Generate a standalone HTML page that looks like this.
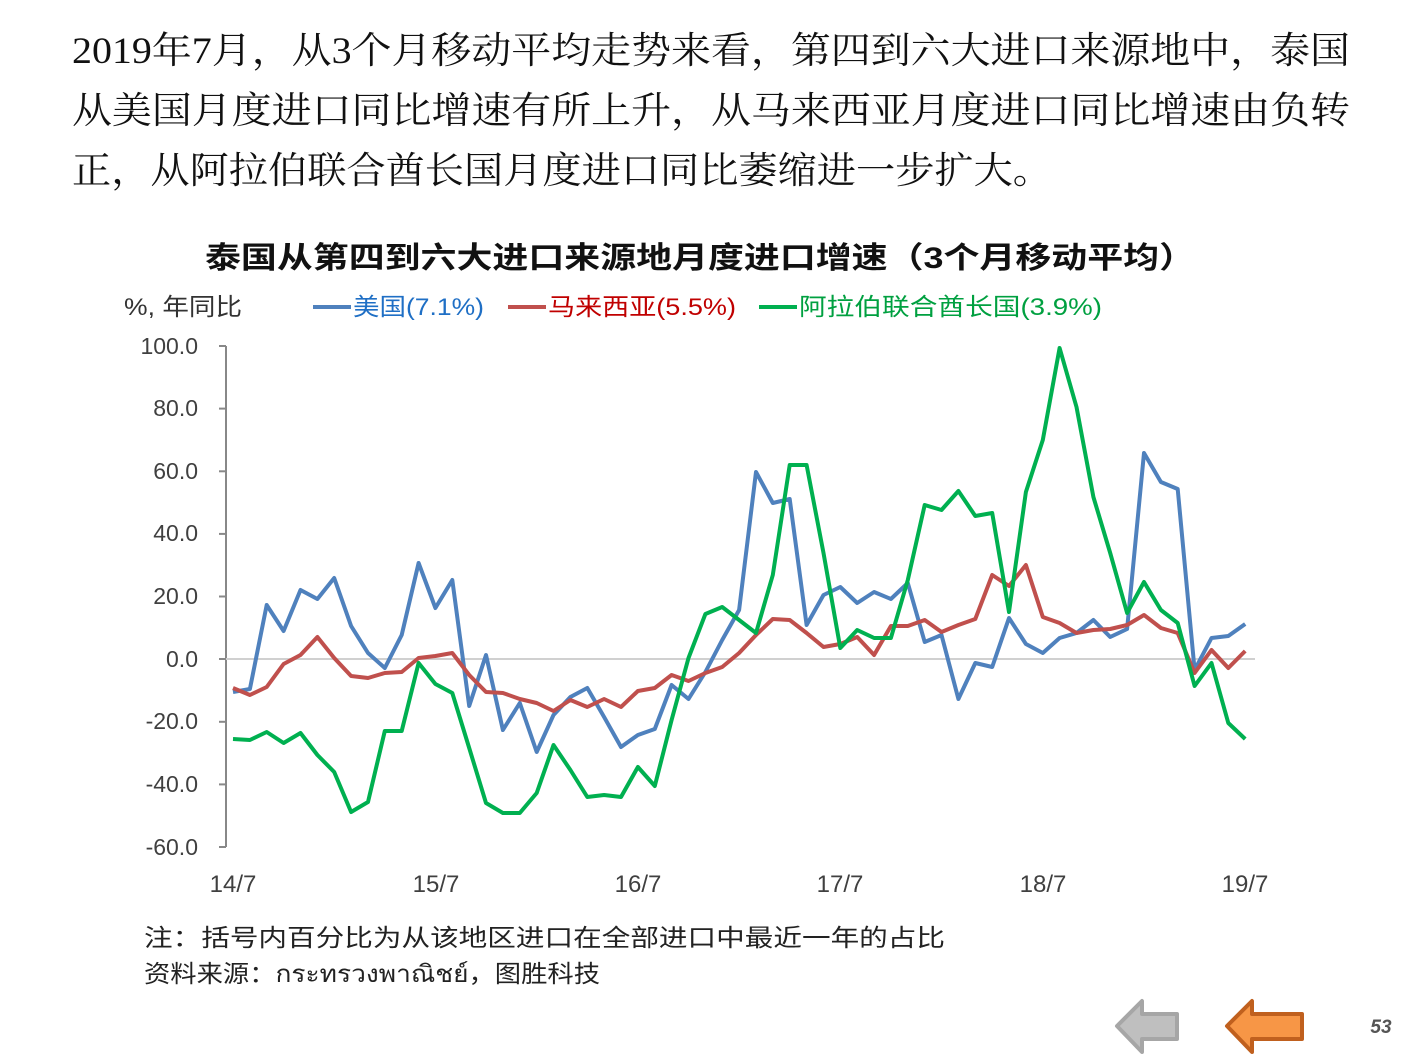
<!DOCTYPE html>
<html><head><meta charset="utf-8"><style>
body{margin:0;background:#fff;}
svg{display:block;}
</style></head><body>
<svg width="1411" height="1058" xmlns="http://www.w3.org/2000/svg">
<g font-family="'Liberation Serif','Noto Serif CJK SC',serif" font-size="37" fill="#111" lengthAdjust="spacingAndGlyphs">
<text x="72" y="63" textLength="1278" lengthAdjust="spacingAndGlyphs">2019年7月，从3个月移动平均走势来看，第四到六大进口来源地中，泰国</text>
<text x="72" y="123" textLength="1278" lengthAdjust="spacingAndGlyphs">从美国月度进口同比增速有所上升，从马来西亚月度进口同比增速由负转</text>
<text x="72" y="183" textLength="980" lengthAdjust="spacingAndGlyphs">正，从阿拉伯联合酋长国月度进口同比萎缩进一步扩大。</text>
</g>
<text x="205" y="268" textLength="990" lengthAdjust="spacingAndGlyphs" font-family="'Liberation Sans','Noto Sans CJK SC',sans-serif" font-size="30" font-weight="bold" fill="#111">泰国从第四到六大进口来源地月度进口增速（3个月移动平均）</text>
<g font-family="'Liberation Sans','Noto Sans CJK SC',sans-serif" font-size="24">
<text x="124" y="315" fill="#333" textLength="118" lengthAdjust="spacingAndGlyphs">%, 年同比</text>
<line x1="313" y1="307" x2="351" y2="307" stroke="#4f81bd" stroke-width="4"/>
<text x="353" y="315" fill="#1f6fc5" textLength="131" lengthAdjust="spacingAndGlyphs">美国(7.1%)</text>
<line x1="508" y1="307" x2="546" y2="307" stroke="#c0504d" stroke-width="4"/>
<text x="548" y="315" fill="#c00000" textLength="188" lengthAdjust="spacingAndGlyphs">马来西亚(5.5%)</text>
<line x1="759" y1="307" x2="797" y2="307" stroke="#00b050" stroke-width="4"/>
<text x="799" y="315" fill="#00a040" textLength="303" lengthAdjust="spacingAndGlyphs">阿拉伯联合酋长国(3.9%)</text>
</g>
<g stroke="#888" stroke-width="2">
<line x1="226" y1="346" x2="226" y2="847"/>
<line x1="219" y1="346" x2="226" y2="346"/><line x1="219" y1="408.6" x2="226" y2="408.6"/><line x1="219" y1="471.3" x2="226" y2="471.3"/><line x1="219" y1="533.9" x2="226" y2="533.9"/><line x1="219" y1="596.5" x2="226" y2="596.5"/><line x1="219" y1="659" x2="226" y2="659"/><line x1="219" y1="721.8" x2="226" y2="721.8"/><line x1="219" y1="784.4" x2="226" y2="784.4"/><line x1="219" y1="847" x2="226" y2="847"/>
</g>
<line x1="226" y1="659" x2="1255" y2="659" stroke="#d0d0d0" stroke-width="2"/>
<g font-family="'Liberation Sans',sans-serif" font-size="23" fill="#404040" text-anchor="end">
<text x="198" y="354">100.0</text><text x="198" y="416">80.0</text><text x="198" y="479">60.0</text><text x="198" y="541">40.0</text><text x="198" y="604">20.0</text><text x="198" y="667">0.0</text><text x="198" y="729">-20.0</text><text x="198" y="792">-40.0</text><text x="198" y="855">-60.0</text>
</g>
<g font-family="'Liberation Sans',sans-serif" font-size="24" fill="#404040" text-anchor="middle">
<text x="233" y="892">14/7</text><text x="436" y="892">15/7</text><text x="638" y="892">16/7</text><text x="840" y="892">17/7</text><text x="1043" y="892">18/7</text><text x="1245" y="892">19/7</text>
</g>
<g fill="none" stroke-width="4" stroke-linejoin="round">
<polyline stroke="#4f81bd" points="233,692 249.9,689 266.7,605 283.6,631 300.5,590 317.4,599 334.2,578 351.1,626 368,653 384.8,668 401.7,635 418.6,563 435.4,608 452.3,580 469.2,706 486,655 502.9,730 519.8,703 536.7,752 553.5,715 570.4,697 587.3,688 604.1,717 621,747 637.9,735 654.8,729 671.6,685 688.5,699 705.4,672 722.2,640 739.1,610 756,472 772.8,503 789.7,499 806.6,625 823.5,595 840.3,587 857.2,603 874.1,592 890.9,599 907.8,583 924.7,642 941.5,635 958.4,699 975.3,663 992.2,667 1009,618 1025.9,644 1042.8,653 1059.6,638 1076.5,633 1093.4,620 1110.2,637 1127.1,629 1144,453 1160.9,482 1177.7,489 1194.6,670 1211.5,638 1228.3,636 1245.2,624"/>
<polyline stroke="#c0504d" points="233,688 249.9,695 266.7,687 283.6,664 300.5,655 317.4,637 334.2,658 351.1,676 368,678 384.8,673 401.7,672 418.6,658 435.4,656 452.3,653 469.2,675 486,692 502.9,693 519.8,699 536.7,703 553.5,711 570.4,700 587.3,707 604.1,699 621,707 637.9,691 654.8,688 671.6,675 688.5,681 705.4,673 722.2,667 739.1,653 756,635 772.8,619 789.7,620 806.6,633 823.5,647 840.3,644 857.2,637 874.1,655 890.9,626 907.8,626 924.7,620 941.5,632 958.4,625 975.3,619 992.2,575 1009,586 1025.9,565 1042.8,617 1059.6,623 1076.5,633 1093.4,630 1110.2,629 1127.1,625 1144,615 1160.9,628 1177.7,633 1194.6,673 1211.5,650 1228.3,668 1245.2,651"/>
<polyline stroke="#00b050" points="233,739 249.9,740 266.7,732 283.6,743 300.5,733 317.4,755 334.2,772 351.1,812 368,802 384.8,731 401.7,731 418.6,663 435.4,684 452.3,693 469.2,748 486,803 502.9,813 519.8,813 536.7,793 553.5,745 570.4,770 587.3,797 604.1,795 621,797 637.9,767 654.8,786 671.6,720 688.5,658 705.4,614 722.2,607 739.1,620 756,633 772.8,575 789.7,465 806.6,465 823.5,553 840.3,648 857.2,630 874.1,638 890.9,638 907.8,580 924.7,505 941.5,510 958.4,491 975.3,516 992.2,513 1009,612 1025.9,492 1042.8,440 1059.6,348 1076.5,407 1093.4,497 1110.2,553 1127.1,613 1144,582 1160.9,610 1177.7,623 1194.6,686 1211.5,663 1228.3,723 1245.2,739"/>
</g>
<g font-family="'Liberation Sans','Noto Sans CJK SC','DejaVu Sans',sans-serif" font-size="24" fill="#222">
<text x="144" y="946" textLength="801" lengthAdjust="spacingAndGlyphs">注：括号内百分比为从该地区进口在全部进口中最近一年的占比</text>
<text x="144" y="982" textLength="456" lengthAdjust="spacingAndGlyphs">资料来源：กระทรวงพาณิชย์，图胜科技</text>
</g>
<polygon points="1117,1026 1142,1001 1142,1014 1177,1014 1177,1039 1142,1039 1142,1052" fill="#bfbfbf" stroke="#a6a6a6" stroke-width="4" stroke-linejoin="round"/>
<polygon points="1227,1026 1252,1001 1252,1014 1302,1014 1302,1039 1252,1039 1252,1052" fill="#f79646" stroke="#c0601e" stroke-width="4" stroke-linejoin="round"/>
<text x="1381" y="1033" text-anchor="middle" font-family="'Liberation Sans',sans-serif" font-size="19" font-weight="bold" font-style="italic" fill="#555">53</text>
</svg>
</body></html>
